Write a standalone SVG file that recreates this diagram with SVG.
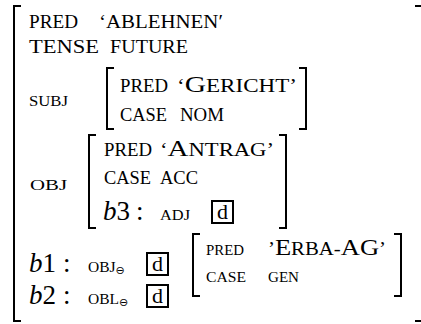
<svg xmlns="http://www.w3.org/2000/svg" width="421" height="324" viewBox="0 0 421 324">
  <style>
    .br { fill: none; stroke: #000; stroke-width: 2; }
    .sc { font-family: "Liberation Serif", serif; font-size: 18px; fill: #000; }
    .ss { font-family: "Liberation Serif", serif; font-size: 15.5px; fill: #000; }
    .big { font-size: 23px; }
    .m { font-family: "Liberation Serif", serif; font-size: 27px; fill: #000; }
    .it { font-style: italic; }
    .op { font-family: "DejaVu Sans", sans-serif; font-size: 11px; }
    .box { fill: none; stroke: #000; stroke-width: 2; }
    .d { font-family: "Liberation Serif", serif; font-size: 22px; fill: #000; }
  </style>

  <!-- brackets -->
  <g id="connectors">
    <path class="br" d="M21,6 H14 V321 H21"/>
    <path class="br" d="M415,6 H422 V321 H415"/>
    <path class="br" d="M114,68 H107 V129 H114"/>
    <path class="br" d="M299,68 H306 V129 H299"/>
    <path class="br" d="M96,135 H89 V228 H96"/>
    <path class="br" d="M279,135 H286 V228 H279"/>
    <path class="br" d="M200,234 H193 V296 H200"/>
    <path class="br" d="M394,234 H401 V296 H394"/>
  </g>

  <!-- top level features -->
  <g id="pred-top">
    <text class="sc" x="29" y="28" textLength="49" lengthAdjust="spacingAndGlyphs">PRED</text>
    <text class="sc" x="99" y="28" textLength="124" lengthAdjust="spacingAndGlyphs">‘ABLEHNEN′</text>
  </g>
  <g id="tense">
    <text class="sc" x="29" y="53" textLength="70" lengthAdjust="spacingAndGlyphs">TENSE</text>
    <text class="sc" x="110" y="53" textLength="78" lengthAdjust="spacingAndGlyphs">FUTURE</text>
  </g>

  <!-- SUBJ -->
  <g id="subj">
    <text class="ss" x="29" y="106" textLength="39" lengthAdjust="spacingAndGlyphs">SUBJ</text>
    <text class="sc" x="120" y="92" textLength="48" lengthAdjust="spacingAndGlyphs">PRED</text>
    <text class="sc" x="177" y="92" textLength="120" lengthAdjust="spacingAndGlyphs">‘<tspan class="big">G</tspan>ERICHT’</text>
    <text class="sc" x="120" y="121" textLength="47" lengthAdjust="spacingAndGlyphs">CASE</text>
    <text class="sc" x="180" y="121" textLength="44" lengthAdjust="spacingAndGlyphs">NOM</text>
  </g>

  <!-- OBJ -->
  <g id="obj">
    <text class="ss" x="30" y="190" textLength="37" lengthAdjust="spacingAndGlyphs">OBJ</text>
    <text class="sc" x="104" y="156" textLength="48" lengthAdjust="spacingAndGlyphs">PRED</text>
    <text class="sc" x="160" y="156" textLength="114" lengthAdjust="spacingAndGlyphs">‘<tspan class="big">A</tspan>NTRAG’</text>
    <text class="sc" x="104" y="184" textLength="47" lengthAdjust="spacingAndGlyphs">CASE</text>
    <text class="sc" x="160" y="184" textLength="38" lengthAdjust="spacingAndGlyphs">ACC</text>
    <text class="m" x="103" y="220"><tspan class="it">b</tspan>3</text>
    <text class="m" x="136" y="220">:</text>
    <text class="ss" x="160" y="220" textLength="30" lengthAdjust="spacingAndGlyphs">ADJ</text>
    <rect class="box" x="212" y="201" width="21" height="22"/>
    <text class="d" x="217" y="219">d</text>
  </g>

  <!-- b1 -->
  <g id="b1">
    <text class="m" x="29" y="272"><tspan class="it">b</tspan>1</text>
    <text class="m" x="63" y="272">:</text>
    <text class="ss" x="88" y="272">OBJ<tspan class="op" dy="2">⊖</tspan></text>
    <rect class="box" x="147" y="253" width="21" height="22"/>
    <text class="d" x="152" y="271">d</text>
  </g>

  <!-- Erba-AG -->
  <g id="erba">
    <text class="ss" x="206" y="255" textLength="38" lengthAdjust="spacingAndGlyphs">PRED</text>
    <text class="sc" x="268" y="255" textLength="118" lengthAdjust="spacingAndGlyphs">’<tspan class="big">E</tspan>RBA-<tspan class="big">AG</tspan>’</text>
    <text class="ss" x="206" y="282" textLength="40" lengthAdjust="spacingAndGlyphs">CASE</text>
    <text class="ss" x="268" y="282" textLength="31" lengthAdjust="spacingAndGlyphs">GEN</text>
  </g>

  <!-- b2 -->
  <g id="b2">
    <text class="m" x="29" y="304"><tspan class="it">b</tspan>2</text>
    <text class="m" x="63" y="304">:</text>
    <text class="ss" x="88" y="304">OBL<tspan class="op" dy="2">⊖</tspan></text>
    <rect class="box" x="147" y="285" width="21" height="22"/>
    <text class="d" x="152" y="303">d</text>
  </g>
</svg>
